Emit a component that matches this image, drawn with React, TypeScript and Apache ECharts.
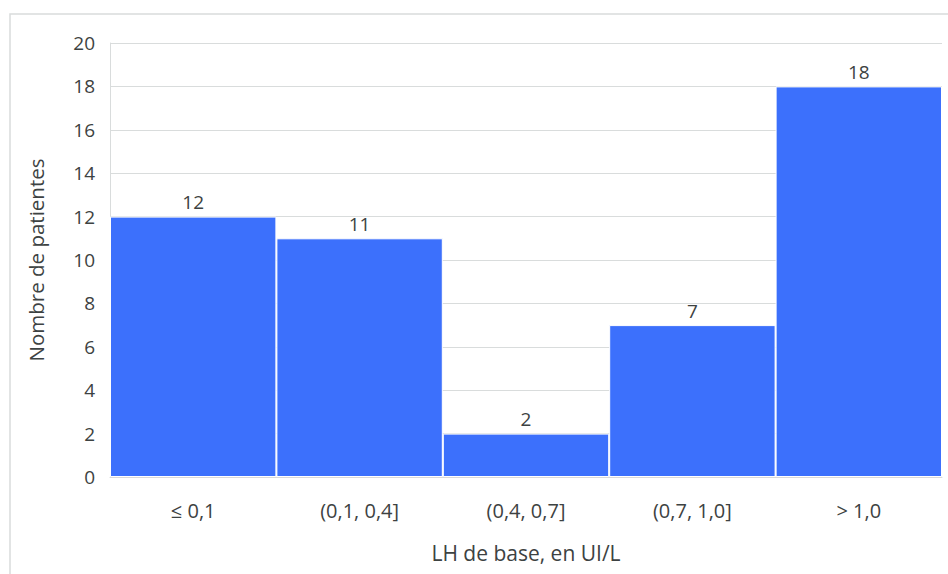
import React, { useEffect, useRef } from "react";
import * as echarts from "echarts";

const categories = ["≤ 0,1", "(0,1, 0,4]", "(0,4, 0,7]", "(0,7, 1,0]", "> 1,0"];
const counts = [12, 11, 2, 7, 18];
const yTicks = { min: 0, max: 20, interval: 2 };

export default function App() {
  const ref = useRef<HTMLDivElement>(null);
  useEffect(() => {
    if (!ref.current) return;
    const chart = echarts.init(ref.current, undefined, { renderer: "svg" });
    const font = "'Open Sans', sans-serif";
    const txt = "#3d4242";
    chart.setOption({
      animation: false,
      backgroundColor: "#ffffff",
      graphic: [
        {
          type: "rect",
          shape: { x: 10, y: 14, width: 960, height: 600 },
          style: { fill: "none", stroke: "#d9dcdc", lineWidth: 1.5 },
          silent: true,
        },
      ],
      grid: { left: 110, right: 6, top: 43, bottom: 97 },
      xAxis: {
        type: "category",
        data: categories,
        axisLine: { show: true, lineStyle: { color: "#d9d9d9" } },
        axisTick: { show: false },
        axisLabel: { color: txt, fontFamily: font, fontSize: 20, margin: 23 },
        name: "LH de base, en UI/L",
        nameLocation: "middle",
        nameGap: 65,
        nameTextStyle: { color: txt, fontFamily: font, fontSize: 21 },
      },
      yAxis: {
        type: "value",
        min: yTicks.min,
        max: yTicks.max,
        interval: yTicks.interval,
        axisLine: { show: true, lineStyle: { color: "#d9dcdc" } },
        axisTick: { show: false },
        splitLine: { lineStyle: { color: "#d9dcdc", width: 1 } },
        axisLabel: { color: txt, fontFamily: font, fontSize: 19, margin: 15 },
        name: "Nombre de patientes",
        nameLocation: "middle",
        nameGap: 64,
        nameTextStyle: { color: txt, fontFamily: font, fontSize: 20.5 },
      },
      series: [
        {
          type: "bar",
          data: counts,
          barCategoryGap: "0%",
          itemStyle: { color: "#3c70fc", borderColor: "#ffffff", borderWidth: 1 },
          label: {
            show: true,
            position: "top",
            distance: 5,
            color: txt,
            fontFamily: font,
            fontSize: 19,
          },
        },
      ],
    });
    return () => chart.dispose();
  }, []);
  return (
    <div
      ref={ref}
      style={{ position: "fixed", left: 0, top: 0, width: 948, height: 574 }}
    />
  );
}
